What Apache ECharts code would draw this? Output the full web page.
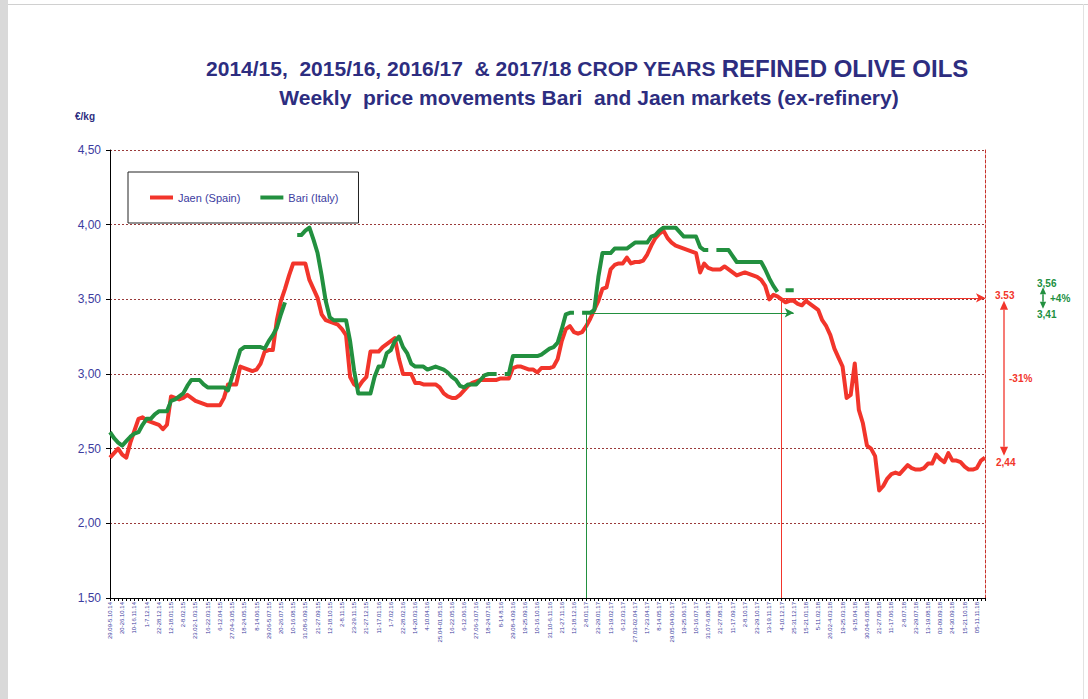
<!DOCTYPE html>
<html><head><meta charset="utf-8">
<script src="https://cdn.jsdelivr.net/npm/echarts@6/dist/echarts.min.js"></script>
<style>html,body{margin:0;padding:0;background:#fff}#c{width:1088px;height:699px}</style>
</head><body><div id="c"></div><script>
// Tick labels (one every 3 weeks)
const tickLabels = [
'29.09-5.10.14','20-26.10.14','10-16.11.14','1-7.12.14','22-28.12.14','12-18.01.15','2-8.02.15','23.02-1.03.15','16-22.03.15','6-12.04.15',
'27.04-3.05.15','18-24.05.15','8-14.06.15','29.06-5.07.15','20-26.07.15','10-16.08.15','31.08-6.09.15','21-27.09.15','12-18.10.15','2-8.11.15',
'23-29.11.15','21-27.12.15','11-17.01.16','1-7.02.16','22-28.02.16','14-20.03.16','4-10.04.16','25.04-01.05.16','16-22.05.16','6-12.06.16',
'27.06-3.07.16','18-24.07.16','8-14.8.16','29.08-4.09.16','19-25.09.16','10-16.10.16','31.10-6.11.16','21-27.11.16','12-18.12.16','2-8.01.17',
'23-29.01.17','13-19.02.17','6-12.03.17','27.03-02.04.17','17-23.04.17','8-14.05.17','29.05-04.06.17','19-25.06.17','10-16.07.17','31.07-6.08.17',
'21-27.08.17','11-17.09.17','2-8.10.17','23-29.10.17','13-19.11.17','4-10.12.17','25-31.12.17','15-21.01.18','5-11.02.18','26.02-4.03.18',
'19-25.03.18','9-15.04.18','30.04-6.05.18','21-27.05.18','11-17.06.18','2-8.07.18','23-29.07.18','13-19.08.18','03-09.09.18','24-30.09.18',
'15-21.10.18','05-11.11.18'
];
// Weekly prices (EUR/kg)
const jaen = [
2.44,2.47,2.50,2.46,2.44,2.54,2.62,2.70,2.71,2.69,
2.68,2.67,2.66,2.63,2.66,2.85,2.84,2.83,2.84,2.86,
2.84,2.82,2.81,2.80,2.79,2.79,2.79,2.79,2.84,2.93,
2.93,2.93,3.05,3.04,3.03,3.02,3.03,3.07,3.15,3.16,
3.16,3.36,3.49,3.57,3.66,3.74,3.74,3.74,3.74,3.63,
3.57,3.51,3.40,3.36,3.35,3.34,3.33,3.30,3.26,2.98,
2.93,2.91,2.95,2.98,3.15,3.15,3.15,3.18,3.20,3.22,
3.24,3.10,3.00,3.00,3.00,2.94,2.94,2.93,2.93,2.93,
2.93,2.91,2.87,2.85,2.84,2.84,2.86,2.89,2.92,2.94,
2.95,2.96,2.96,2.96,2.96,2.96,2.97,2.97,2.97,3.04,
3.05,3.05,3.04,3.03,3.03,3.01,3.04,3.04,3.04,3.05,
3.10,3.22,3.30,3.32,3.28,3.27,3.28,3.32,3.37,3.43,
3.49,3.57,3.58,3.70,3.73,3.74,3.74,3.78,3.74,3.75,
3.75,3.76,3.80,3.86,3.91,3.94,3.96,3.91,3.88,3.86,
3.85,3.84,3.83,3.82,3.81,3.68,3.74,3.71,3.70,3.70,
3.70,3.72,3.70,3.68,3.66,3.67,3.68,3.67,3.66,3.65,
3.63,3.59,3.50,3.53,3.52,3.50,3.48,3.49,3.49,3.47,
3.46,3.49,3.47,3.45,3.43,3.36,3.32,3.26,3.17,3.11,
3.05,2.84,2.86,3.07,2.76,2.67,2.52,2.50,2.45,2.22,
2.25,2.30,2.33,2.34,2.33,2.36,2.39,2.37,2.36,2.36,
2.37,2.40,2.40,2.46,2.43,2.41,2.47,2.42,2.42,2.41,
2.38,2.36,2.36,2.37,2.42,2.44
];
const bari = [
2.61,2.57,2.54,2.52,2.55,2.58,2.60,2.61,2.66,2.70,
2.70,2.73,2.75,2.75,2.75,2.82,2.83,2.85,2.87,2.92,
2.96,2.96,2.96,2.93,2.91,2.91,2.91,2.91,2.91,2.89,
2.98,3.07,3.16,3.18,3.18,3.18,3.18,3.18,3.17,3.22,
3.26,3.31,3.40,3.48,null,null,3.93,3.93,3.96,3.98,
3.90,3.81,3.66,3.49,3.38,3.36,3.36,3.36,3.36,3.22,
3.02,2.87,2.87,2.87,2.87,2.98,3.05,3.05,3.14,3.16,
3.22,3.25,3.18,3.14,3.07,3.05,3.05,3.05,3.03,3.04,
3.05,3.04,3.03,3.01,2.98,2.96,2.92,2.91,2.93,2.93,
2.93,2.96,2.99,3.00,3.00,3.00,null,3.00,3.00,3.12,
3.12,3.12,3.12,3.12,3.12,3.12,3.13,3.15,3.17,3.18,
3.21,3.30,3.40,3.41,3.41,null,3.41,3.41,3.41,3.43,
3.65,3.81,3.81,3.81,3.84,3.84,3.84,3.84,3.86,3.88,
3.88,3.88,3.88,3.92,3.93,3.96,3.98,3.98,3.98,3.98,
3.95,3.92,3.92,3.92,3.92,3.85,3.83,3.83,null,3.83,
3.83,3.83,3.83,3.79,3.75,3.75,3.75,3.75,3.75,3.75,
3.75,3.70,3.64,3.59,3.55,null,3.56,3.56,3.56
];
const yTicks = [1.5, 4.5, 0.5]; // min, max, step
// Annotations
const greenRef = {from:'2-8.01.17', level:3.41, arrowEndWeek:168};
const redRef = {from:'4-10.12.17', level:3.51};
const redNote = {top:3.53, bottom:2.44, labels:['3.53','-31%','2,44']};
const greenNote = {top:3.56, bottom:3.41, labels:['3,56','+4%','3,41']};

const categories = [];
tickLabels.forEach(l => { categories.push(l, ' ', '  '); });
const gStart = categories.indexOf(greenRef.from);
const rStart = categories.indexOf(redRef.from);
const lastIdx = categories.length - 1;

const RED = '#f2352b', GREEN = '#22903f', NAVY = '#2d2d80', LBL = '#3c3ca0';
const FONT = '"Liberation Sans", Arial, sans-serif';

const chart = echarts.init(document.getElementById('c'), null, {renderer:'svg'});
const option = {
  animation:false,
  backgroundColor:'#fff',
  title:[
    {text:'{a|2014/15,  2015/16, 2016/17  & 2017/18 CROP YEARS }{b|REFINED OLIVE OILS}', left:587, top:55, textAlign:'center', padding:0,
     textStyle:{rich:{a:{fontFamily:FONT,fontWeight:'bold',fontSize:21,color:NAVY,lineHeight:26},
                      b:{fontFamily:FONT,fontWeight:'bold',fontSize:24,color:NAVY,lineHeight:26}}}},
    {text:'Weekly  price movements Bari  and Jaen markets (ex-refinery)', left:589, top:84, textAlign:'center', padding:0,
     textStyle:{fontFamily:FONT,fontWeight:'bold',fontSize:21,color:NAVY,lineHeight:26}},
    {text:'€/kg', left:75, top:111, padding:0, textStyle:{fontFamily:FONT,fontWeight:'bold',fontSize:10,color:NAVY}}
  ],
  legend:{
    left:128, top:172, orient:'horizontal',
    padding:[20,20,20,22], itemGap:20, itemWidth:23, itemHeight:4,
    borderColor:'#222', borderWidth:1, backgroundColor:'#fff',
    textStyle:{fontFamily:FONT,fontSize:11,color:LBL},
    data:[{name:'Jaen (Spain)',icon:'rect'},{name:'Bari (Italy)',icon:'rect'}]
  },
  grid:{left:110, right:103, top:150, bottom:101, containLabel:false},
  xAxis:{
    type:'category', data:categories, boundaryGap:false,
    axisLine:{lineStyle:{color:'#000',width:1}},
    axisTick:{interval:0,length:3,lineStyle:{color:'#000'}},
    axisLabel:{interval:(i)=>i%3===0, rotate:90, fontSize:6, color:LBL, fontFamily:FONT, margin:4},
    splitLine:{show:false}
  },
  yAxis:[
    {type:'value', min:yTicks[0], max:yTicks[1], interval:yTicks[2],
     axisLine:{show:true,lineStyle:{color:'#000',width:1}},
     axisTick:{show:true,length:4,lineStyle:{color:'#000'}},
     axisLabel:{formatter:v=>v.toFixed(2).replace('.',','), fontSize:12, color:LBL, fontFamily:FONT, margin:9},
     splitLine:{show:true,lineStyle:{color:'#9a3a3a',type:[2,2],width:1}}},
    {type:'value', position:'right', min:yTicks[0], max:yTicks[1], interval:yTicks[2],
     axisLine:{show:true,lineStyle:{color:'#c8332c',type:[3,2],width:1}},
     axisTick:{show:false}, axisLabel:{show:false}, splitLine:{show:false}}
  ],
  series:[
    {name:'Jaen (Spain)', type:'line', data:jaen, symbol:'none', showSymbol:false,
     lineStyle:{color:RED,width:4,join:'round'}, itemStyle:{color:RED}, z:2,
     markLine:{silent:true, animation:false, label:{show:false},
       lineStyle:{color:RED,width:1,type:'solid'},
       data:[
         [{coord:[rStart,redRef.level],symbol:'none'},{coord:[lastIdx,redRef.level],symbol:'arrow',symbolSize:[7,9]}],
         [{coord:[rStart,redRef.level],symbol:'none'},{coord:[rStart,yTicks[0]],symbol:'none'}]
       ]}},
    {name:'Bari (Italy)', type:'line', data:bari, symbol:'none', showSymbol:false, connectNulls:false,
     lineStyle:{color:GREEN,width:4,join:'round'}, itemStyle:{color:GREEN}, z:3,
     markLine:{silent:true, animation:false, label:{show:false},
       lineStyle:{color:GREEN,width:1,type:'solid'},
       data:[
         [{coord:[gStart,greenRef.level],symbol:'none'},{coord:[greenRef.arrowEndWeek,greenRef.level],symbol:'arrow',symbolSize:[7,9]}],
         [{coord:[gStart,greenRef.level],symbol:'none'},{coord:[gStart,yTicks[0]],symbol:'none'}]
       ]}}
  ]
};
chart.setOption(option);

// Annotations outside the plot, placed through the axis scales
const py = v => chart.convertToPixel({yAxisIndex:0}, v);
const xr = chart.convertToPixel({xAxisIndex:0}, lastIdx);
function dblArrow(x, y1, y2, color, w, head) {
  return [
    {type:'line', shape:{x1:x,y1:y1+head,x2:x,y2:y2-head}, style:{stroke:color,lineWidth:w}},
    {type:'polygon', shape:{points:[[x,y1],[x-head*0.45,y1+head],[x+head*0.45,y1+head]]}, style:{fill:color}},
    {type:'polygon', shape:{points:[[x,y2],[x-head*0.45,y2-head],[x+head*0.45,y2-head]]}, style:{fill:color}}
  ];
}
const rx = xr + 19, rT = py(redRef.level) + 3, rB = py(redNote.bottom) - 2;
const gx = xr + 58, gT = py(greenNote.top) - 3, gB = py(greenNote.bottom) - 4;
const txt = (x, y, s, color, align) => ({type:'text', x, y, style:{text:s, fill:color, font:'bold 10px '+FONT, align:align||'left', verticalAlign:'middle'}});
const graphics = [
  {type:'rect', shape:{x:0,y:0,width:8,height:699}, style:{fill:'#d9d9d9'}, silent:true},
  {type:'rect', shape:{x:8,y:4,width:1080,height:1}, style:{fill:'#d0d0d0'}, silent:true},
  {type:'rect', shape:{x:1083,y:4,width:1,height:695}, style:{fill:'#e2e2e2'}, silent:true},
  ...dblArrow(rx, rT, rB, RED, 1.3, 9),
  txt(xr + 10, py(redNote.top) + 1, redNote.labels[0], RED),
  txt(xr + 24, (rT + rB) / 2, redNote.labels[1], RED),
  txt(xr + 11, py(redNote.bottom) + 5, redNote.labels[2], RED),
  ...dblArrow(gx, gT, gB, GREEN, 1.5, 7),
  txt(xr + 52, py(greenNote.top) - 7, greenNote.labels[0], GREEN),
  txt(xr + 65, (gT + gB) / 2, greenNote.labels[1], GREEN),
  txt(xr + 52, py(greenNote.bottom) + 2, greenNote.labels[2], GREEN)
];
chart.setOption({graphic: graphics});
</script></body></html>
